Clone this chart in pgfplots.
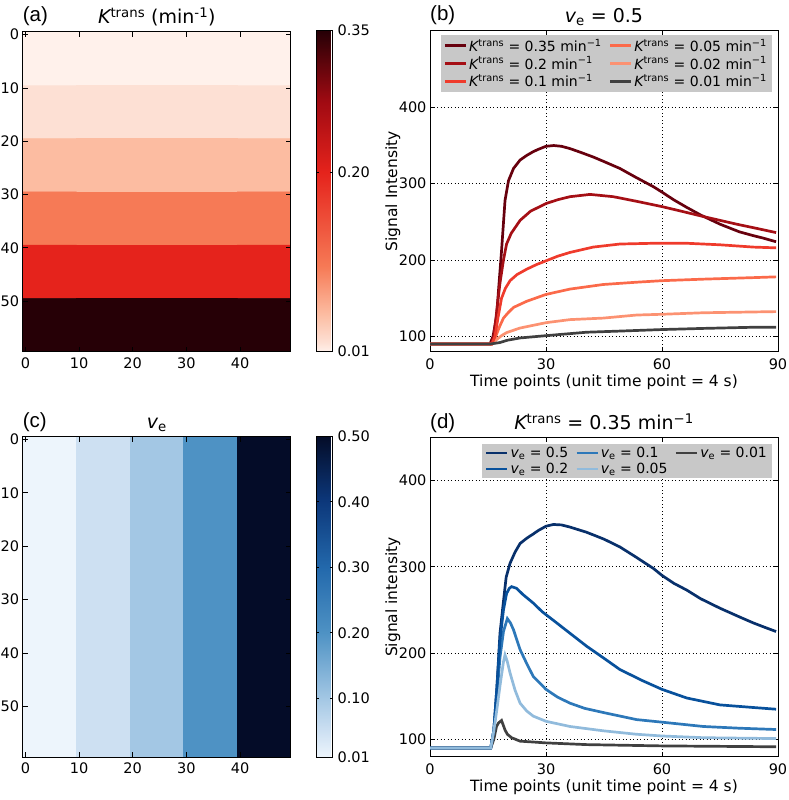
\documentclass[border=0pt]{standalone}
\usepackage{fontspec}
\setmainfont{DejaVu Sans}
\newfontfamily\letfont{Liberation Sans}
\usepackage{pgfplots}
\pgfplotsset{compat=1.18}

\definecolor{kA}{RGB}{103,0,13}
\definecolor{kB}{RGB}{165,15,21}
\definecolor{kC}{RGB}{239,59,44}
\definecolor{kD}{RGB}{251,106,74}
\definecolor{kE}{RGB}{252,146,114}
\definecolor{gr}{RGB}{64,64,64}
\definecolor{bA}{RGB}{8,48,107}
\definecolor{bB}{RGB}{8,81,156}
\definecolor{bC}{RGB}{45,120,185}
\definecolor{bD}{RGB}{145,187,220}
\definecolor{lg}{RGB}{200,200,200}

\newcommand\tfs{\fontsize{14.5}{17}\selectfont}
\newcommand\gfs{\fontsize{14}{16.5}\selectfont}
\newcommand\lfs{\fontsize{15.5}{18}\selectfont}
\newcommand\hfs{\fontsize{19}{22}\selectfont}
\newcommand\pfs{\letfont\fontsize{20.5}{24}\selectfont}
\newcommand\Kt{{\itshape K}\textsuperscript{trans}}
\newcommand\ve{{\itshape v}\textsubscript{e}}

\pgfplotsset{
  base/.style={scale only axis, tick align=inside, tick pos=both, major tick length=5pt,
    axis line style={line width=1pt}, every tick/.append style={line width=0.8pt, black},
    tick label style={font=\tfs}, /pgf/number format/assume math mode=true},
  hm/.style={base, width=268.3pt, enlargelimits=false, axis on top,
    xmin=-0.5, xmax=49.5, ymin=-59.5, ymax=0.5,
    xtick={0,10,20,30,40}, ytick={0,-10,-20,-30,-40,-50}, yticklabels={0,10,20,30,40,50},
    xticklabel style={anchor=base, yshift=-16.6pt}},
  cb/.style={colorbar, colorbar style={scale only axis, width=16.3pt, height=321pt,
    at={(parent axis.south east)}, anchor=south west, xshift=16.7pt,
    tick align=inside, major tick length=3pt, axis line style={line width=1pt},
    yticklabel style={font=\tfs, xshift=1.5pt, /pgf/number format/.cd, fixed, fixed zerofill, precision=2, assume math mode=true},
    #1}},
  ln/.style={base, width=348pt, xmin=0, xmax=90, xtick={0,30,60,90}, ytick={100,200,300,400},
    grid=major, grid style={black, line width=0.8pt, dash pattern=on 0.8pt off 2.7pt},
    xticklabel style={anchor=base, yshift=-17.6pt},
    every axis plot/.append style={line width=2.7pt},
    legend image code/.code={\draw[##1, line width=2.7pt] (0pt,0pt) -- (21pt,0pt);},
    legend cell align=left,
    legend style={fill=lg, draw=none, font=\gfs, anchor=north east, inner xsep=3pt, inner ysep=1.5pt,
      /tikz/every even column/.append style={column sep=5pt}},
    xlabel={Time points (unit time point = 4 s)},
    xlabel style={font=\lfs, at={(rel axis cs:0.5,-0.108)}, anchor=base},
    ylabel style={font=\lfs, at={(rel axis cs:-0.0948,0.5)}, anchor=base}},
}

\begin{document}
\begin{tikzpicture}
\path[use as bounding box] (0,0) rectangle (789pt,800pt);

% ---------------- (a)
\begin{axis}[hm, name=A, at={(22.7pt,448.3pt)}, anchor=south west, height=319.7pt,
  colormap={reds}{rgb255(0pt)=(255,241,235) rgb255(29pt)=(253,224,212) rgb255(118pt)=(252,188,161)
    rgb255(265pt)=(246,122,86) rgb255(559pt)=(229,35,28) rgb255(780pt)=(160,10,18) rgb255(1000pt)=(38,0,6)},
  point meta min=0.01, point meta max=0.35,
  cb={ytick={0.01,0.20,0.35}}]
\addplot[matrix plot*, mesh/cols=5, point meta=explicit] table[meta=c] {
x y c
4.5 -4.5 0.01
14.5 -4.5 0.01
24.5 -4.5 0.01
34.5 -4.5 0.01
44.5 -4.5 0.01
4.5 -14.5 0.02
14.5 -14.5 0.02
24.5 -14.5 0.02
34.5 -14.5 0.02
44.5 -14.5 0.02
4.5 -24.5 0.05
14.5 -24.5 0.05
24.5 -24.5 0.05
34.5 -24.5 0.05
44.5 -24.5 0.05
4.5 -34.5 0.1
14.5 -34.5 0.1
24.5 -34.5 0.1
34.5 -34.5 0.1
44.5 -34.5 0.1
4.5 -44.5 0.2
14.5 -44.5 0.2
24.5 -44.5 0.2
34.5 -44.5 0.2
44.5 -44.5 0.2
4.5 -54.5 0.35
14.5 -54.5 0.35
24.5 -54.5 0.35
34.5 -54.5 0.35
44.5 -54.5 0.35
};
\end{axis}

% ---------------- (c)
\begin{axis}[hm, name=C, at={(22.7pt,42.7pt)}, anchor=south west, height=320.6pt,
  colormap={blues}{rgb255(0pt)=(237,245,252) rgb255(82pt)=(205,224,242) rgb255(184pt)=(163,199,228)
    rgb255(388pt)=(78,146,196) rgb255(590pt)=(35,105,172) rgb255(800pt)=(12,55,122) rgb255(1000pt)=(4,12,40)},
  point meta min=0.01, point meta max=0.5,
  cb={ytick={0.01,0.10,0.20,0.30,0.40,0.50}}]
\addplot[matrix plot*, mesh/cols=5, point meta=explicit] table[meta=c] {
x y c
4.5 -4.5 0.01
14.5 -4.5 0.05
24.5 -4.5 0.1
34.5 -4.5 0.2
44.5 -4.5 0.5
4.5 -14.5 0.01
14.5 -14.5 0.05
24.5 -14.5 0.1
34.5 -14.5 0.2
44.5 -14.5 0.5
4.5 -24.5 0.01
14.5 -24.5 0.05
24.5 -24.5 0.1
34.5 -24.5 0.2
44.5 -24.5 0.5
4.5 -34.5 0.01
14.5 -34.5 0.05
24.5 -34.5 0.1
34.5 -34.5 0.2
44.5 -34.5 0.5
4.5 -44.5 0.01
14.5 -44.5 0.05
24.5 -44.5 0.1
34.5 -44.5 0.2
44.5 -44.5 0.5
4.5 -54.5 0.01
14.5 -54.5 0.05
24.5 -54.5 0.1
34.5 -54.5 0.2
44.5 -54.5 0.5
};
\end{axis}

% ---------------- (b)
\begin{axis}[ln, name=B, at={(430pt,448.3pt)}, anchor=south west, height=320.7pt,
  ymin=80, ymax=500, ylabel={Signal Intensity},
  legend columns=2, legend style={at={(0.983,0.987)}}]
\addplot[kA] coordinates {(0,90)(15.5,90)(16.3,100)(17.2,126)(18.5,212)(19.4,278)(20.3,304)(21.6,320)(23.3,331)(25,337)(26.7,342)(28,345)(30,349)(32,350)(34,349)(36.2,346)(39,341)(42.2,335)(45,329)(49.1,320)(53,309)(57.8,296)(60,289)(63,279)(66.4,269)(70,259)(75,247)(80,237)(83.6,232)(86,229)(89.5,224)};
\addlegendentry{\Kt\ = 0.35 min\textsuperscript{−1}}
\addplot[kD] coordinates {(0,90)(16,90)(17,100)(18,113)(19,124)(20.2,131)(21.6,138)(25,146)(30,155)(36.2,162)(44.8,168)(53.4,171)(60,173)(70.7,175)(83.6,177)(89.5,178)};
\addlegendentry{\Kt\ = 0.05 min\textsuperscript{−1}}
\addplot[kB] coordinates {(0,90)(15.8,90)(16.5,100)(17.3,135)(18.1,170)(19,200)(19.8,221)(21,235)(23.3,252)(26,264)(30,274)(33,279)(36.2,283)(41.4,286)(47.4,283)(53.4,277)(60,270)(65,264)(70.7,257)(75,252)(79.3,247)(84,242)(89.5,236)};
\addlegendentry{\Kt\ = 0.2 min\textsuperscript{−1}}
\addplot[kE] coordinates {(0,90)(16,90)(17.5,97)(18.5,101)(19.8,105)(23.3,111)(30,118)(36.2,122)(44.8,124)(53.4,128)(60,129)(70.7,131)(89.5,132.5)};
\addlegendentry{\Kt\ = 0.02 min\textsuperscript{−1}}
\addplot[kC] coordinates {(0,90)(16,90)(16.8,100)(17.6,125)(18.5,150)(19.5,163)(20.7,173)(22.5,181)(25,188)(27.5,194)(30,199)(33,205)(36.2,210)(42.2,217)(49.1,221)(57.8,222)(66.4,222)(75,220)(83.6,217)(89.5,216)};
\addlegendentry{\Kt\ = 0.1 min\textsuperscript{−1}}
\addplot[gr] coordinates {(0,90)(15.5,90)(18.1,92)(20,95)(23.3,98)(30,101)(40.5,105.5)(49.1,107)(60,109)(70.7,110.5)(83.6,112)(89.5,112)};
\addlegendentry{\Kt\ = 0.01 min\textsuperscript{−1}}
\end{axis}

% ---------------- (d)
\begin{axis}[ln, name=D, at={(430pt,43.3pt)}, anchor=south west, height=319.4pt,
  ymin=80, ymax=450, ylabel={Signal intensity},
  legend columns=3, legend style={at={(0.983,0.981)}}]
\addplot[bA] coordinates {(0,90)(15.7,90)(16.5,110)(17.3,160)(18.1,223)(19,260)(19.7,288)(20.7,304)(22,317)(23.3,327)(25,333)(26.7,338)(28,342)(30,347)(31.9,349)(34,348.5)(36.2,346)(40.5,340)(45,332)(49.1,323)(53,312)(57.8,298)(60,290)(63,281)(66.4,273)(70,263)(75,252)(80,242)(83.6,235)(86.5,230)(89.5,225)};
\addlegendentry{\ve\ = 0.5}
\addplot[bC] coordinates {(0,90)(15.7,90)(16.5,110)(17.3,150)(18.1,195)(19,225)(20,240)(20.8,235)(21.6,227)(23.3,204)(25,188)(26.7,173)(30,158)(33,149)(36.2,142)(40,136)(45,131)(53.4,123)(60,120)(70.7,115)(80,113)(89.5,111.5)};
\addlegendentry{\ve\ = 0.1}
\addplot[gr] coordinates {(0,90)(15.7,90)(16.5,100)(17.2,115)(17.7,119)(18.5,122)(19.4,111)(20,106)(21.1,102)(23.3,98)(26.7,97)(30,96)(40.5,94)(60,92.5)(89.5,91.5)};
\addlegendentry{\ve\ = 0.01}
\addplot[bB] coordinates {(0,90)(15.7,90)(16.5,110)(17.3,160)(18.1,215)(19,250)(19.8,269)(20.5,275)(21.1,277)(22.4,275)(24,268)(26.7,258)(29,248)(31.9,238)(36.2,223)(40.5,208)(45,194)(49.1,181)(55,168)(60,158)(66.4,148)(75,140)(83.6,137)(89.5,135)};
\addlegendentry{\ve\ = 0.2}
\addplot[bD] coordinates {(0,90)(15.7,90)(16.5,110)(17.3,135)(18.1,162)(19,190)(19.4,198)(20,190)(20.7,177)(22,157)(23.3,142)(25,133)(26.7,127)(30,121)(36.2,115)(44.8,110)(53.4,106)(60,104)(70.7,102)(89.5,101)};
\addlegendentry{\ve\ = 0.05}
\end{axis}

% ---------------- titles and panel letters
\node[font=\pfs, anchor=base west, inner sep=0pt] at ([yshift=10.5pt]A.north west) {(a)};
\node[font=\hfs, anchor=base, inner sep=0pt] at ([yshift=8pt]A.north) {\Kt\ (min\textsuperscript{-1})};
\node[font=\pfs, anchor=base west, inner sep=0pt] at ([yshift=10.5pt]B.north west) {(b)};
\node[font=\hfs, anchor=base, inner sep=0pt] at ([yshift=8pt]B.north) {\ve\ = 0.5};
\node[font=\pfs, anchor=base west, inner sep=0pt] at ([yshift=9pt]C.north west) {(c)};
\node[font=\hfs, anchor=base, inner sep=0pt] at ([yshift=8pt]C.north) {\ve};
\node[font=\pfs, anchor=base west, inner sep=0pt] at ([yshift=9pt]D.north west) {(d)};
\node[font=\hfs, anchor=base, inner sep=0pt] at ([yshift=8pt]D.north) {\Kt\ = 0.35 min\textsuperscript{−1}};
\end{tikzpicture}
\end{document}
